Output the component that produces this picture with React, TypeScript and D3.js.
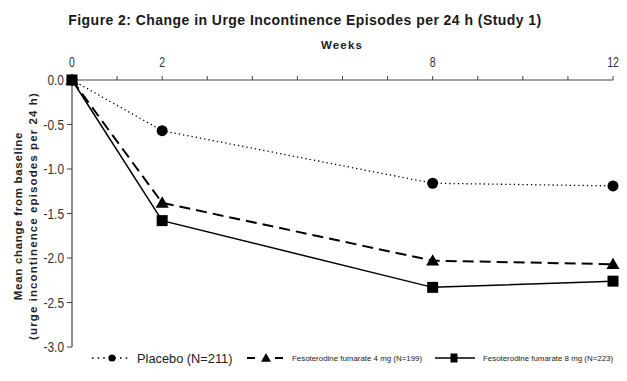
import React from "react";
import * as d3 from "d3";

const weeks = [0, 2, 8, 12];
const placebo = [0, -0.57, -1.16, -1.19];
const feso4 = [0, -1.38, -2.03, -2.07];
const feso8 = [0, -1.58, -2.33, -2.26];
const xTickLabels = [0, 2, 8, 12];
const yTicks = [0, -0.5, -1.0, -1.5, -2.0, -2.5, -3.0];
const seriesNames = ["Placebo (N=211)", "Fesoterodine fumarate 4 mg (N=199)", "Fesoterodine fumarate 8 mg (N=223)"];

const W = 627, H = 381;
const x = d3.scaleLinear().domain([0, 12]).range([72, 613]);
const y = d3.scaleLinear().domain([0, -3]).range([80, 347]);
const line = d3.line<number>().x((_, i) => x(weeks[i])).y((d) => y(d));

const sans = "'Liberation Sans', Arial, sans-serif";
const axisColor = "#444";

function Circle({ cx, cy, r = 5.5 }: { cx: number; cy: number; r?: number }) {
  return <circle cx={cx} cy={cy} r={r} fill="#000" />;
}
function Tri({ cx, cy, s = 6.5 }: { cx: number; cy: number; s?: number }) {
  return <path d={`M${cx},${cy - s} L${cx + s},${cy + s * 0.75} L${cx - s},${cy + s * 0.75}Z`} fill="#000" />;
}
function Sq({ cx, cy, w = 11, h = 11 }: { cx: number; cy: number; w?: number; h?: number }) {
  return <rect x={cx - w / 2} y={cy - h / 2} width={w} height={h} fill="#000" />;
}

export default function App() {
  const ly = 358;
  return (
    <svg width={W} height={H} style={{ position: "absolute", left: 0, top: 0, background: "#fff" }}>
      <rect width={W} height={H} fill="#fff" />
      <text x={305} y={25} textAnchor="middle" fontFamily={sans} fontWeight="bold" fontSize={14} fill="#1a1a1a" letterSpacing={0.45}>
        Figure 2: Change in Urge Incontinence Episodes per 24 h (Study 1)
      </text>
      <text x={342} y={49} textAnchor="middle" fontFamily={sans} fontWeight="bold" fontSize={11.5} fill="#222" letterSpacing={1.2}>
        Weeks
      </text>
      {/* x axis at top */}
      <line x1={x(0)} x2={x(12)} y1={y(0)} y2={y(0)} stroke={axisColor} strokeWidth={1.2} />
      {d3.range(1, 13).map((w) => (
        <line key={w} x1={x(w)} x2={x(w)} y1={y(0)} y2={y(0) - 4} stroke={axisColor} strokeWidth={1} />
      ))}
      {xTickLabels.map((w) => (
        <text key={w} transform={`translate(${x(w)},67) scale(0.75,1)`} textAnchor="middle" fontFamily={sans} fontSize={14} fill="#333">
          {w}
        </text>
      ))}
      {/* y axis */}
      <line x1={x(0)} x2={x(0)} y1={y(0)} y2={y(-3)} stroke={axisColor} strokeWidth={1.2} />
      {yTicks.map((t) => (
        <g key={t}>
          <line x1={x(0) - 5} x2={x(0)} y1={y(t)} y2={y(t)} stroke={axisColor} strokeWidth={1} />
          <text transform={`translate(64,${y(t) + 5}) scale(0.85,1)`} textAnchor="end" fontFamily={sans} fontSize={14} fill="#333">
            {t.toFixed(1)}
          </text>
        </g>
      ))}
      <g transform="translate(0,216) rotate(-90)" fontFamily={sans} fontWeight="bold" fontSize={11.5} fill="#222">
        <text x={0} y={22} textAnchor="middle" letterSpacing={0.7}>Mean change from baseline</text>
        <text x={0} y={37} textAnchor="middle" letterSpacing={1.1}>(urge incontinence episodes per 24 h)</text>
      </g>
      {/* lines */}
      <path d={line(placebo) || ""} fill="none" stroke="#000" strokeWidth={1.3} strokeDasharray="1.3,3" />
      <path d={line(feso4) || ""} fill="none" stroke="#000" strokeWidth={2} strokeDasharray="11,6" />
      <path d={line(feso8) || ""} fill="none" stroke="#000" strokeWidth={1.5} />
      {placebo.map((v, i) => <Circle key={"p" + i} cx={x(weeks[i])} cy={y(v)} />)}
      {feso4.map((v, i) => <Tri key={"t" + i} cx={x(weeks[i])} cy={y(v)} />)}
      {feso8.map((v, i) => <Sq key={"s" + i} cx={x(weeks[i])} cy={y(v)} />)}
      {/* legend */}
      <line x1={92} x2={131} y1={ly} y2={ly} stroke="#000" strokeWidth={1.6} strokeDasharray="1.6,4" />
      <Circle cx={112} cy={ly} r={3.6} />
      <text x={137} y={ly + 4.5} fontFamily={sans} fontSize={12.8} fill="#222">{seriesNames[0]}</text>
      <line x1={247} x2={283} y1={ly} y2={ly} stroke="#000" strokeWidth={2} strokeDasharray="8,20" />
      <Tri cx={266} cy={ly} s={5} />
      <text x={292} y={ly + 3} fontFamily={sans} fontSize={7.9} fill="#222">{seriesNames[1]}</text>
      <line x1={435} x2={475} y1={ly} y2={ly} stroke="#000" strokeWidth={1.5} />
      <Sq cx={454} cy={ly} w={7} h={9} />
      <text x={483} y={ly + 3} fontFamily={sans} fontSize={7.9} fill="#222">{seriesNames[2]}</text>
    </svg>
  );
}
